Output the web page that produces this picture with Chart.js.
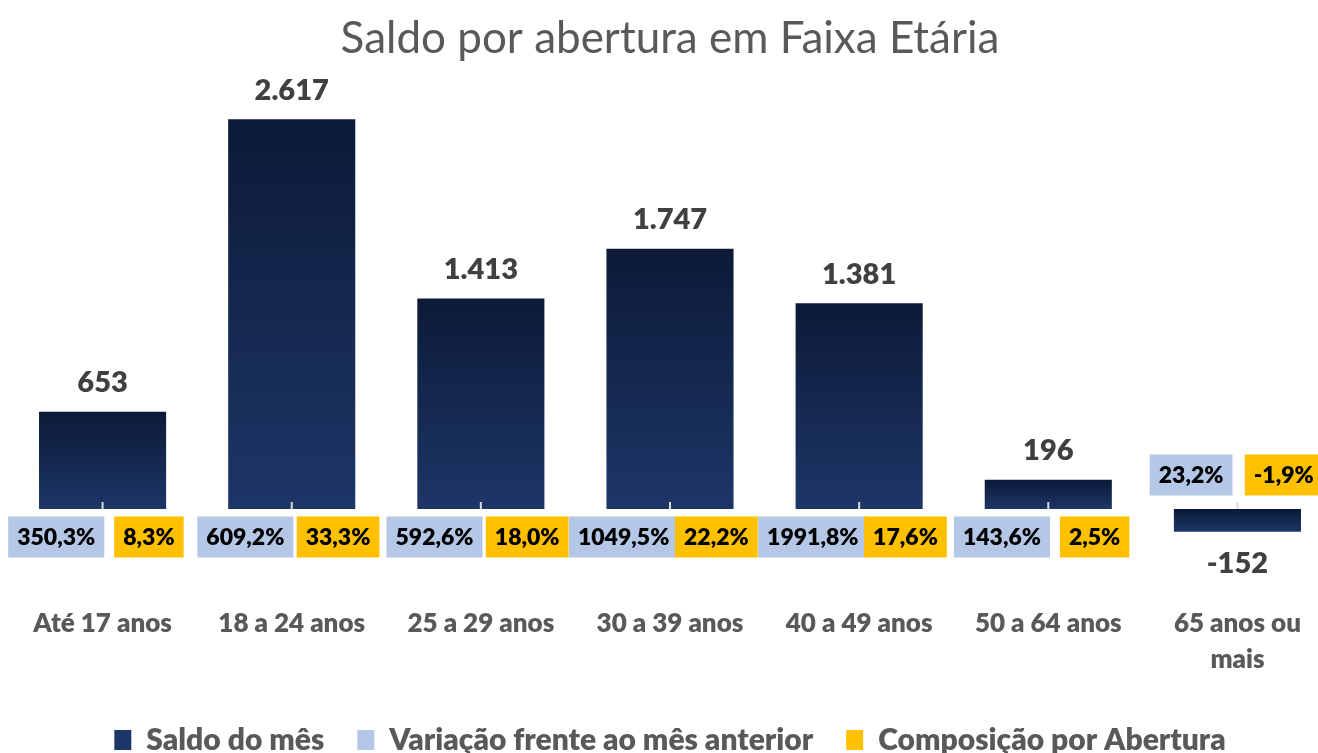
<!DOCTYPE html>
<html>
<head>
<meta charset="utf-8">
<script src="https://cdn.jsdelivr.net/npm/chart.js@4"></script>
<style>
  html, body { margin: 0; padding: 0; background: #fff; overflow: hidden; }
  #wrap { width: 1332px; height: 753px; position: relative; }
</style>
</head>
<body>
<div id="wrap"><canvas id="faixaChart"></canvas></div>
<script>
// data
const categories = ['Até 17 anos', '18 a 24 anos', '25 a 29 anos', '30 a 39 anos', '40 a 49 anos', '50 a 64 anos', ['65 anos ou', 'mais']];
const saldo = [653, 2617, 1413, 1747, 1381, 196, -152];
const variacao = [350.3, 609.2, 592.6, 1049.5, 1991.8, 143.6, 23.2];
const composicao = [8.3, 33.3, 18.0, 22.2, 17.6, 2.5, -1.9];

const FONT = 'Lato, "Open Sans", sans-serif';

function fmtSaldo(v) {
    return v.toLocaleString('pt-BR');
}
function fmtPct(v) {
    return v.toFixed(1).replace('.', ',') + '%';
}

// gradient per bar: dark at the top, lighter towards the bottom
function barGradient(context) {
    const chart = context.chart;
    if (context.dataIndex === undefined || !chart.chartArea) return '#142a55';
    const y = chart.scales.y;
    const v = context.dataset.data[context.dataIndex];
    const a = y.getPixelForValue(v);
    const b = y.getPixelForValue(0);
    const top = Math.min(a, b), bottom = Math.max(a, b);
    if (!isFinite(top) || bottom - top < 1) return '#142a55';
    const g = chart.ctx.createLinearGradient(0, top, 0, bottom);
    g.addColorStop(0, '#0c1a37');
    g.addColorStop(1, '#1d3668');
    return g;
}

// the two percentage series are only shown as boxed labels
const labelBoxes = {
    id: 'labelBoxes',
    beforeDatasetDraw(chart, args) {
        if (args.index > 0) return false;
    },
    afterDatasetsDraw(chart) {
        const ctx = chart.ctx;
        const y = chart.scales.y;
        const zero = y.getPixelForValue(0);
        const saldoMeta = chart.getDatasetMeta(0);

        ctx.save();
        ctx.textAlign = 'center';
        ctx.textBaseline = 'middle';

        // small tick marks on the zero line
        ctx.strokeStyle = '#d9d9d9';
        ctx.lineWidth = 2;
        saldoMeta.data.forEach(function(bar) {
            ctx.beginPath();
            ctx.moveTo(bar.x, zero);
            ctx.lineTo(bar.x, zero - 7);
            ctx.stroke();
        });

        // saldo values
        ctx.font = '800 29px ' + FONT;
        ctx.fillStyle = '#404040';
        saldoMeta.data.forEach(function(bar, i) {
            const v = saldo[i];
            const ty = v >= 0 ? bar.y - 29 : bar.y + 32;
            ctx.fillText(fmtSaldo(v), bar.x, ty);
        });

        // percentage boxes
        ctx.font = '800 23px ' + FONT;
        const series = [
            { idx: 1, values: variacao, color: '#b4c7e7' },
            { idx: 2, values: composicao, color: '#ffc000' }
        ];
        series.forEach(function(s) {
            const meta = chart.getDatasetMeta(s.idx);
            meta.data.forEach(function(el, i) {
                const txt = fmtPct(s.values[i]);
                const w = ctx.measureText(txt).width + 18;
                const h = 41;
                const cy = saldo[i] >= 0 ? zero + 28 : zero - 34;
                ctx.fillStyle = s.color;
                ctx.fillRect(el.x - w / 2, cy - h / 2, w, h);
                ctx.fillStyle = '#000000';
                ctx.fillText(txt, el.x, cy + 1);
            });
        });
        ctx.restore();
    }
};

new Chart(document.getElementById('faixaChart'), {
    type: 'bar',
    data: {
        labels: categories,
        datasets: [{
            label: 'Saldo do mês',
            data: saldo,
            backgroundColor: barGradient,
            grouped: false,
            categoryPercentage: 1,
            barPercentage: 0.672,
            yAxisID: 'y'
        }, {
            label: 'Variação frente ao mês anterior',
            data: variacao,
            backgroundColor: '#b4c7e7',
            categoryPercentage: 0.98,
            barPercentage: 1,
            yAxisID: 'y2'
        }, {
            label: 'Composição por Abertura',
            data: composicao,
            backgroundColor: '#ffc000',
            categoryPercentage: 0.98,
            barPercentage: 1,
            yAxisID: 'y2'
        }]
    },
    options: {
        responsive: true,
        maintainAspectRatio: false,
        animation: false,
        layout: { padding: { left: 8, right: 0, top: 0, bottom: -12 } },
        scales: {
            x: {
                grid: { display: false, drawTicks: false },
                border: { display: false },
                ticks: {
                    color: '#595959',
                    font: { family: FONT, size: 26, weight: 800, lineHeight: 1.4 },
                    padding: 14,
                    maxRotation: 0,
                    autoSkip: false
                }
            },
            y: {
                min: -552,
                max: 2875,
                border: { display: false },
                grid: {
                    drawTicks: false,
                    lineWidth: 2,
                    color: function(c) { return c.tick && c.tick.value === 0 ? '#d9d9d9' : 'rgba(0,0,0,0)'; }
                },
                ticks: { display: false, stepSize: 500 }
            },
            y2: {
                display: false,
                min: -100,
                max: 2500
            }
        },
        plugins: {
            title: {
                display: true,
                text: 'Saldo por abertura em Faixa Etária',
                color: '#595959',
                font: { family: FONT, size: 44, weight: 'normal' },
                padding: { top: 12, bottom: 16 }
            },
            legend: {
                position: 'bottom',
                labels: {
                    color: '#595959',
                    font: { family: FONT, size: 30, weight: 800 },
                    boxWidth: 17,
                    boxHeight: 20,
                    padding: 33
                }
            },
            tooltip: { enabled: false }
        }
    },
    plugins: [labelBoxes]
});
</script>
</body>
</html>
